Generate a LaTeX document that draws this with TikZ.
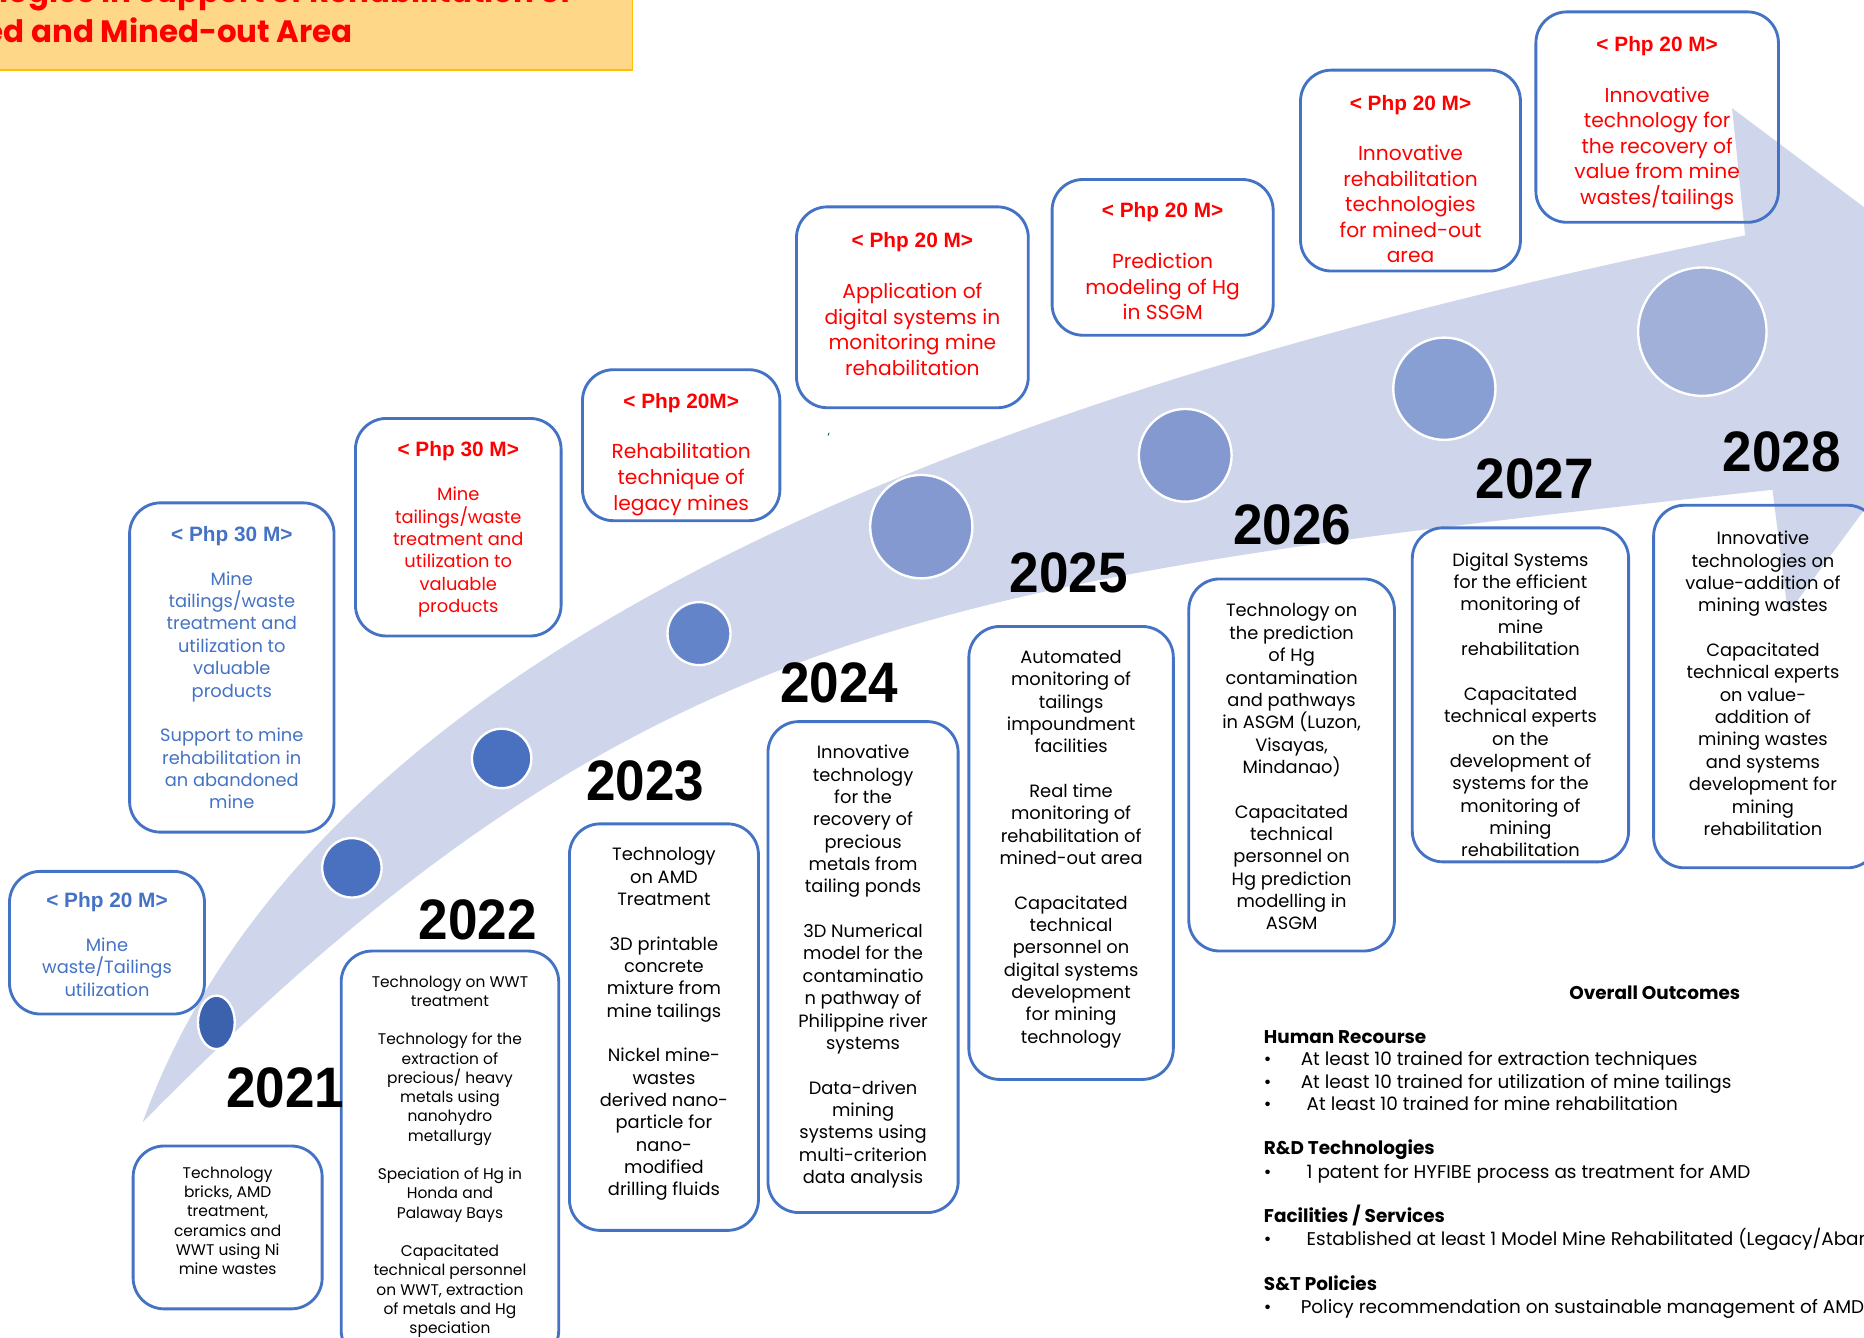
\documentclass[tikz,border=0pt]{standalone}
\usepackage{fontspec}
\setmainfont{Poppins}
\newfontfamily\cbold{Liberation Sans Bold}[FakeStretch=0.93]
\newfontfamily\tbold{Liberation Sans Bold}
\usetikzlibrary{shapes.geometric}
\definecolor{band}{HTML}{CFD5EA}
\definecolor{boxblue}{HTML}{4472C4}
\definecolor{redtxt}{HTML}{FF0000}
\definecolor{titlefill}{HTML}{FFD789}
\definecolor{titleedge}{HTML}{FFC000}
\definecolor{cA}{HTML}{3D62AD}
\definecolor{cB}{HTML}{4A71C0}
\definecolor{cC}{HTML}{6484CA}
\definecolor{cD}{HTML}{8399D0}
\definecolor{cE}{HTML}{889FD4}
\definecolor{cF}{HTML}{A0B0D9}
\begin{document}
\begin{tikzpicture}[x=1pt,y=-1pt,
  box/.style={draw=boxblue, line width=2.4pt, rounded corners=26pt, inner sep=0},
  dot/.style={ellipse, draw=white, line width=2pt, inner sep=0},
  ttl/.style={font=\tbold\fontsize{17.5}{20}\selectfont, inner sep=0, anchor=base},
  yr/.style={font=\cbold\fontsize{48}{48}\selectfont, inner sep=0, anchor=base west, text=black},
  txtL/.style={font=\fontsize{17}{21.5}\selectfont, align=center, inner sep=0, anchor=north},
  txtM/.style={font=\fontsize{15}{18.8}\selectfont, align=center, inner sep=0, anchor=north},
  txtS/.style={font=\fontsize{13}{16.2}\selectfont, align=center, inner sep=0, anchor=north},
  oc/.style={font=\fontsize{15.5}{19}\selectfont, inner sep=0, anchor=west, text height=11pt, text depth=3pt},
  och/.style={oc, font=\bfseries\fontsize{15.5}{19}\selectfont},
  head/.style={font=\bfseries\fontsize{26}{30}\selectfont, text=redtxt, anchor=base east, inner sep=0}
]
\useasboundingbox (0,0) rectangle (1568,1125);
\clip (0,0) rectangle (1568,1125);

% title banner
\node (tbox) [draw=titleedge, fill=titlefill, line width=1.5pt, minimum width=540pt, minimum height=70pt, inner sep=0] at (262,24) {};
\node (t1) [head] at (481,2) {ologies in Support of Rehabilitation of};
\node (t2) [head] at (297,36) {ed and Mined-out Area};

% curved arrow
\fill[band] (120,944) .. controls (273,521) and (880,318) .. (1468,198) -- (1457,91) -- (1689,265) -- (1504,516) -- (1491,412) .. controls (795,488) and (540,518) .. (120,944) -- cycle;

% budget boxes
\node (b1) [box, minimum width=164pt, minimum height=120pt] at (90,793) {};
\node (b2) [box, minimum width=172pt, minimum height=277pt] at (195,561.5) {};
\node (b3) [box, minimum width=173pt, minimum height=183pt] at (385.5,443.5) {};
\node (b4) [box, minimum width=166pt, minimum height=127pt] at (573,374.5) {};
\node (b5) [box, minimum width=195pt, minimum height=169pt] at (767.5,258.5) {};
\node (b6) [box, minimum width=186pt, minimum height=131pt] at (978,216.5) {};
\node (b7) [box, minimum width=185pt, minimum height=169pt] at (1186.5,143.5) {};
\node (b8) [box, minimum width=204pt, minimum height=177pt] at (1394,98.5) {};

% outcome boxes
\node (o1) [box, minimum width=159pt, minimum height=137pt] at (191.5,1032.5) {};
\node (o2) [box, minimum width=183pt, minimum height=345pt] at (378.5,972.5) {};
\node (o3) [box, minimum width=159pt, minimum height=342pt] at (558.5,864) {};
\node (o4) [box, minimum width=160pt, minimum height=413pt] at (726,813.5) {};
\node (o5) [box, minimum width=172pt, minimum height=381pt] at (901,717.5) {};
\node (o6) [box, minimum width=173pt, minimum height=313pt] at (1086.5,643.5) {};
\node (o7) [box, minimum width=182pt, minimum height=281pt] at (1279,584.5) {};
\node (o8) [box, minimum width=189pt, minimum height=305pt] at (1485.5,577.5) {};

% milestones
\node (c1) [dot, fill=cA, minimum width=31pt, minimum height=45pt] at (182,860) {};
\node (c2) [dot, fill=cB, minimum size=50pt] at (296,730) {};
\node (c3) [dot, fill=cB, minimum size=50pt] at (422,638) {};
\node (c4) [dot, fill=cC, minimum size=53pt] at (588,533) {};
\node (c5) [dot, fill=cD, minimum width=86pt, minimum height=87pt] at (775,443) {};
\node (c6) [dot, fill=cD, minimum size=78pt] at (997,383) {};
\node (c7) [dot, fill=cE, minimum size=86pt] at (1215,327) {};
\node (c8) [dot, fill=cF, minimum size=108pt] at (1432,279) {};

% years
\node (y1) [yr] at (190,932) {2021};
\node (y2) [yr] at (352,790) {2022};
\node (y3) [yr] at (493,673) {2023};
\node (y4) [yr] at (656,591) {2024};
\node (y5) [yr] at (849,498) {2025};
\node (y6) [yr] at (1037,458) {2026};
\node (y7) [yr] at (1241,419) {2027};
\node (y8) [yr] at (1449,397) {2028};

% budget titles
\node (b1t) [ttl, text=boxblue] at (90,763.3) {< Php 20 M>};
\node (b2t) [ttl, text=boxblue] at (195,455.3) {< Php 30 M>};
\node (b3t) [ttl, text=redtxt] at (385.5,384.3) {< Php 30 M>};
\node (b4t) [ttl, text=redtxt] at (573,343.3) {< Php 20M>};
\node (b5t) [ttl, text=redtxt] at (767.5,208.3) {< Php 20 M>};
\node (b6t) [ttl, text=redtxt] at (978,183.3) {< Php 20 M>};
\node (b7t) [ttl, text=redtxt] at (1186.5,93.3) {< Php 20 M>};
\node (b8t) [ttl, text=redtxt] at (1394,43.3) {< Php 20 M>};

% budget bodies
\node (b1x) [txtM, text=boxblue] at (90,788.7) {Mine\\waste/Tailings\\utilization};
\node (b2x) [txtM, text=boxblue] at (195,480.7) {Mine\\tailings/waste\\treatment and\\utilization to\\valuable\\products\\[18.8pt]Support to mine\\rehabilitation in\\an abandoned\\mine};
\node (b3x) [txtM, text=redtxt] at (385.5,409.7) {Mine\\tailings/waste\\treatment and\\utilization to\\valuable\\products};
\node (b4x) [txtL, text=redtxt] at (573,372.9) {Rehabilitation\\technique of\\legacy mines};
\node (b5x) [txtL, text=redtxt] at (767.5,237.9) {Application of\\digital systems in\\monitoring mine\\rehabilitation};
\node (b6x) [txtL, text=redtxt] at (978,212.9) {Prediction\\modeling of Hg\\in SSGM};
\node (b7x) [txtL, text=redtxt] at (1186.5,121.9) {Innovative\\rehabilitation\\technologies\\for mined-out\\area};
\node (b8x) [txtL, text=redtxt] at (1394,72.9) {Innovative\\technology for\\the recovery of\\value from mine\\wastes/tailings};

% outcome bodies
\node (o1x) [txtS] at (191.5,981.5) {Technology\\bricks, AMD\\treatment,\\ceramics and\\WWT using Ni\\mine wastes};
\node (o2x) [txtS] at (378.5,820.5) {Technology on WWT\\treatment\\[16.2pt]Technology for the\\extraction of\\precious/ heavy\\metals using\\nanohydro\\metallurgy\\[16.2pt]Speciation of Hg in\\Honda and\\Palaway Bays\\[16.2pt]Capacitated\\technical personnel\\on WWT, extraction\\of metals and Hg\\speciation};
\node (o3x) [txtM] at (558.5,712.7) {Technology\\on AMD\\Treatment\\[18.8pt]3D printable\\concrete\\mixture from\\mine tailings\\[18.8pt]Nickel mine-\\wastes\\derived nano-\\particle for\\nano-\\modified\\drilling fluids};
\node (o4x) [txtM] at (726,626.7) {Innovative\\technology\\for the\\recovery of\\precious\\metals from\\tailing ponds\\[18.8pt]3D Numerical\\model for the\\contaminatio\\n pathway of\\Philippine river\\systems\\[18.8pt]Data-driven\\mining\\systems using\\multi-criterion\\data analysis};
\node (o5x) [txtM] at (901,546.7) {Automated\\monitoring of\\tailings\\impoundment\\facilities\\[18.8pt]Real time\\monitoring of\\rehabilitation of\\mined-out area\\[18.8pt]Capacitated\\technical\\personnel on\\digital systems\\development\\for mining\\technology};
\node (o6x) [txtM] at (1086.5,507.7) {Technology on\\the prediction\\of Hg\\contamination\\and pathways\\in ASGM (Luzon,\\Visayas,\\Mindanao)\\[18.8pt]Capacitated\\technical\\personnel on\\Hg prediction\\modelling in\\ASGM};
\node (o7x) [txtM] at (1279,464.7) {Digital Systems\\for the efficient\\monitoring of\\mine\\rehabilitation\\[18.8pt]Capacitated\\technical experts\\on the\\development of\\systems for the\\monitoring of\\mining\\rehabilitation};
\node (o8x) [txtM] at (1483,446.7) {Innovative\\technologies on\\value-addition of\\mining wastes\\[18.8pt]Capacitated\\technical experts\\on value-\\addition of\\mining wastes\\and systems\\development for\\mining\\rehabilitation};

\node (tick) [font=\fontsize{10}{10}\selectfont, text=black!70!green, inner sep=0] at (697,368) {`};

% overall outcomes
\node (oo) [och, anchor=center] at (1392,836.5) {Overall Outcomes};
\node (hr) [och] at (1063,873.5) {Human Recourse};
\node (hr1b) [oc] at (1063,892.5) {•};
\node (hr1) [oc] at (1094,892.5) {At least 10 trained for extraction techniques};
\node (hr2b) [oc] at (1063,911.5) {•};
\node (hr2) [oc] at (1094,911.5) {At least 10 trained for utilization of mine tailings};
\node (hr3b) [oc] at (1063,930.5) {•};
\node (hr3) [oc] at (1099,930.5) {At least 10 trained for mine rehabilitation};
\node (rd) [och] at (1063,967.5) {R\&D Technologies};
\node (rd1b) [oc] at (1063,987.5) {•};
\node (rd1) [oc] at (1099,987.5) {1 patent for HYFIBE process as treatment for AMD};
\node (fs) [och] at (1063,1024.5) {Facilities / Services};
\node (fs1b) [oc] at (1063,1043.5) {•};
\node (fs1) [oc] at (1099,1043.5) {Established at least 1 Model Mine Rehabilitated (Legacy/Abandoned)};
\node (st) [och] at (1063,1081.5) {S\&T Policies};
\node (st1b) [oc] at (1063,1100.5) {•};
\node (st1) [oc] at (1094,1100.5) {Policy recommendation on sustainable management of AMD};
\end{tikzpicture}
\end{document}
